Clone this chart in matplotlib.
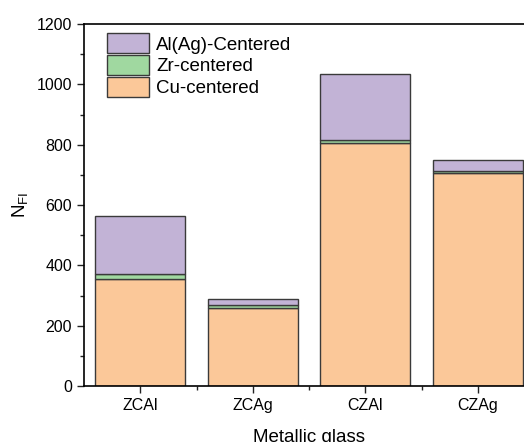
import matplotlib
matplotlib.use('Agg')
import matplotlib.pyplot as plt
from matplotlib.ticker import MultipleLocator, FixedLocator

# stacked counts per metallic glass
glasses = ['ZCAl', 'ZCAg', 'CZAl', 'CZAg']
cu_centered = [355, 260, 805, 705]
zr_centered = [17, 7, 9, 7]
al_ag_centered = [190, 22, 220, 36]

plt.rcParams['font.family'] = ['Liberation Sans', 'DejaVu Sans']
plt.rcParams['mathtext.fontset'] = 'custom'
plt.rcParams['mathtext.rm'] = 'Liberation Sans'
plt.rcParams['mathtext.it'] = 'Liberation Sans:italic'

fig = plt.figure(figsize=(5.24, 4.42), dpi=100)
ax = fig.add_axes([84 / 524, 1 - 386 / 442, 450 / 524, 362 / 442])

x = range(len(glasses))
edge = '#3a3a3a'
bottom2 = [c + z for c, z in zip(cu_centered, zr_centered)]

ax.bar(x, cu_centered, width=0.8, color='#FBC899', edgecolor=edge,
       linewidth=1, label='Cu-centered')
ax.bar(x, zr_centered, width=0.8, bottom=cu_centered, color='#A0D8A0',
       edgecolor=edge, linewidth=1, label='Zr-centered')
ax.bar(x, al_ag_centered, width=0.8, bottom=bottom2, color='#C2B3D6',
       edgecolor=edge, linewidth=1, label='Al(Ag)-Centered')

ax.set_xlim(-0.5, 3.5)
ax.set_ylim(0, 1200)
ax.set_xticks(list(x))
ax.set_xticklabels(glasses)
ax.xaxis.set_minor_locator(FixedLocator([0.5, 1.5, 2.5]))
ax.yaxis.set_major_locator(MultipleLocator(200))
ax.yaxis.set_minor_locator(MultipleLocator(100))

ax.tick_params(axis='both', which='major', direction='out', length=5,
               width=1, labelsize=11.5, color='#222222')
ax.tick_params(axis='both', which='minor', direction='out', length=3,
               width=1, color='#222222')
for s in ax.spines.values():
    s.set_linewidth(1.2)

ax.set_xlabel('Metallic glass', fontsize=13.5, labelpad=12)
ax.set_ylabel(r'$\mathregular{N_{FI}}$', fontsize=13.5)
ax.yaxis.set_label_coords(-0.12, 0.5)

# legend order: top layer first
h, l = ax.get_legend_handles_labels()
ax.legend(h[::-1], l[::-1], loc='upper left', bbox_to_anchor=(0.05, 0.974),
          frameon=False, fontsize=13.5, handlelength=2.25, handleheight=1.25,
          handletextpad=0.4, labelspacing=0.08, borderpad=0, borderaxespad=0)

fig.savefig('out.png', dpi=100)
